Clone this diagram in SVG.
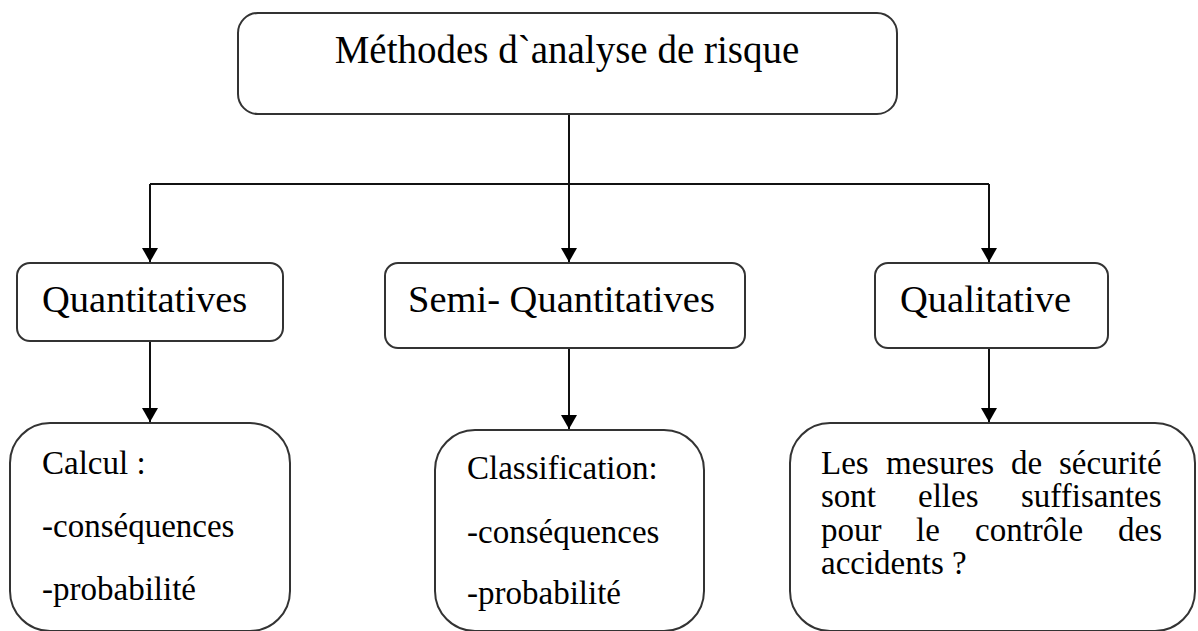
<svg xmlns="http://www.w3.org/2000/svg" width="1198" height="631" viewBox="0 0 1198 631">
<style>
.box{fill:#fff;stroke:#333;stroke-width:2}
.t{font-family:"Liberation Serif","Times New Roman",serif;fill:#000}
.h{font-size:38.5px}
.b{font-size:33px}
.c{fill:none;stroke:#111;stroke-width:2}
</style>
<defs>
<marker id="ah" viewBox="0 0 14 16" refX="14" refY="8" markerWidth="14" markerHeight="16" markerUnits="userSpaceOnUse" orient="auto">
<path d="M0,0 L14,8 L0,16 Z" fill="#000"/>
</marker>
</defs>
<rect width="1198" height="631" fill="#fff"/>
<g id="connectors">
<path class="c" d="M569,114 V184"/>
<path class="c" d="M150,184 H989"/>
<path class="c" d="M150,184 V262" marker-end="url(#ah)"/>
<path class="c" d="M569,184 V262" marker-end="url(#ah)"/>
<path class="c" d="M989,184 V262" marker-end="url(#ah)"/>
<path class="c" d="M150,341 V422" marker-end="url(#ah)"/>
<path class="c" d="M569,348 V429" marker-end="url(#ah)"/>
<path class="c" d="M989,348 V422" marker-end="url(#ah)"/>
</g>
<g id="root">
<rect class="box" x="238" y="13" width="659" height="101" rx="20"/>
<text class="t" x="567" y="63" font-size="39" text-anchor="middle">Méthodes d`analyse de risque</text>
</g>
<g id="quantitatives">
<rect class="box" x="17" y="263" width="266" height="78" rx="13"/>
<text class="t h" x="42" y="312">Quantitatives</text>
</g>
<g id="semi">
<rect class="box" x="385" y="263" width="360" height="85" rx="13"/>
<text class="t h" x="408" y="312">Semi- Quantitatives</text>
</g>
<g id="qualitative">
<rect class="box" x="875" y="263" width="233" height="85" rx="13"/>
<text class="t h" x="900" y="312">Qualitative</text>
</g>
<g id="calcul">
<rect class="box" x="10" y="423" width="280" height="208" rx="40"/>
<text class="t b" x="42" y="474">Calcul :</text>
<text class="t b" x="42" y="537">-conséquences</text>
<text class="t b" x="42" y="600">-probabilité</text>
</g>
<g id="classification">
<rect class="box" x="435" y="430" width="269" height="201" rx="40"/>
<text class="t b" x="467" y="479">Classification:</text>
<text class="t b" x="467" y="543">-conséquences</text>
<text class="t b" x="467" y="604">-probabilité</text>
</g>
<g id="mesures">
<rect class="box" x="790" y="423" width="405" height="208" rx="40"/>
<text class="t b" y="474"><tspan x="821">Les</tspan><tspan x="886">mesures</tspan><tspan x="1011">de</tspan><tspan x="1059">sécurité</tspan></text>
<text class="t b" y="507"><tspan x="821">sont</tspan><tspan x="918">elles</tspan><tspan x="1021">suffisantes</tspan></text>
<text class="t b" y="541"><tspan x="821">pour</tspan><tspan x="916">le</tspan><tspan x="975">contrôle</tspan><tspan x="1118">des</tspan></text>
<text class="t b" x="821" y="574">accidents ?</text>
</g>
</svg>
